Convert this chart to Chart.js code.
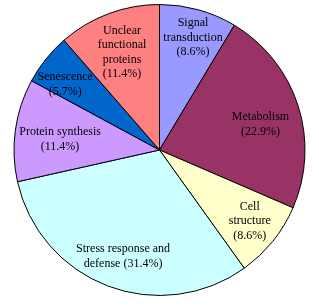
<!DOCTYPE html>
<html><head><meta charset="utf-8">
<script src="https://cdn.jsdelivr.net/npm/chart.js@4"></script>
<style>html,body{margin:0;padding:0;background:#fff}#wrap{width:319px;height:307px}</style>
</head><body><div id="wrap"><canvas id="c"></canvas></div>
<script>
const categories = ["Signal transduction","Metabolism","Cell structure","Stress response and defense","Protein synthesis","Senescence","Unclear functional proteins"];
const percentages = [8.6, 22.9, 8.6, 31.4, 11.4, 5.7, 11.4];
const labelLines = [
  ["Signal","transduction"],
  ["Metabolism"],
  ["Cell","structure"],
  ["Stress response and","defense"],
  ["Protein synthesis"],
  ["Senescence"],
  ["Unclear","functional","proteins"]
];
const colors = ["#9999FF","#993366","#FFFFCC","#CCFFFF","#CC99FF","#0066CC","#FF8080"];
// label placement (style): radius fraction and angle tweak in degrees
const labelRadius = [0.807, 0.716, 0.79, 0.774, 0.687, 0.79, 0.718];
const labelAngleShift = [1.1, 3.6, -0.6, -2.0, -1.9, -3.8, -0.5];

const sliceLabels = {
  id: 'sliceLabels',
  afterDatasetsDraw(chart) {
    const ctx = chart.ctx;
    const meta = chart.getDatasetMeta(0);
    ctx.save();
    ctx.font = "12px 'Liberation Serif'";
    ctx.fillStyle = '#000';
    ctx.textAlign = 'center';
    ctx.textBaseline = 'middle';
    const lh = 14.5;
    meta.data.forEach((arc, i) => {
      const p = arc.getProps(['startAngle','endAngle','outerRadius','x','y'], true);
      const mid = (p.startAngle + p.endAngle) / 2 + labelAngleShift[i] * Math.PI / 180;
      const r = p.outerRadius * labelRadius[i];
      const cx = p.x + Math.cos(mid) * r;
      const cy = p.y + Math.sin(mid) * r;
      const lines = labelLines[i].slice();
      const pct = '(' + percentages[i].toFixed(1) + '%)';
      if (i === 3) lines[lines.length-1] += ' ' + pct; else lines.push(pct);
      const y0 = cy - (lines.length - 1) * lh / 2;
      lines.forEach((t, k) => ctx.fillText(t, cx, y0 + k * lh));
    });
    ctx.restore();
  }
};

new Chart(document.getElementById('c'), {
  type: 'pie',
  data: {
    labels: categories,
    datasets: [{
      data: percentages,
      backgroundColor: colors,
      borderColor: '#000',
      borderWidth: 1
    }]
  },
  options: {
    responsive: true,
    maintainAspectRatio: false,
    animation: false,
    layout: { padding: { top: 4, bottom: 11, left: 0, right: 0 } },
    plugins: { legend: { display: false }, tooltip: { enabled: false } }
  },
  plugins: [sliceLabels]
});
</script></body></html>
